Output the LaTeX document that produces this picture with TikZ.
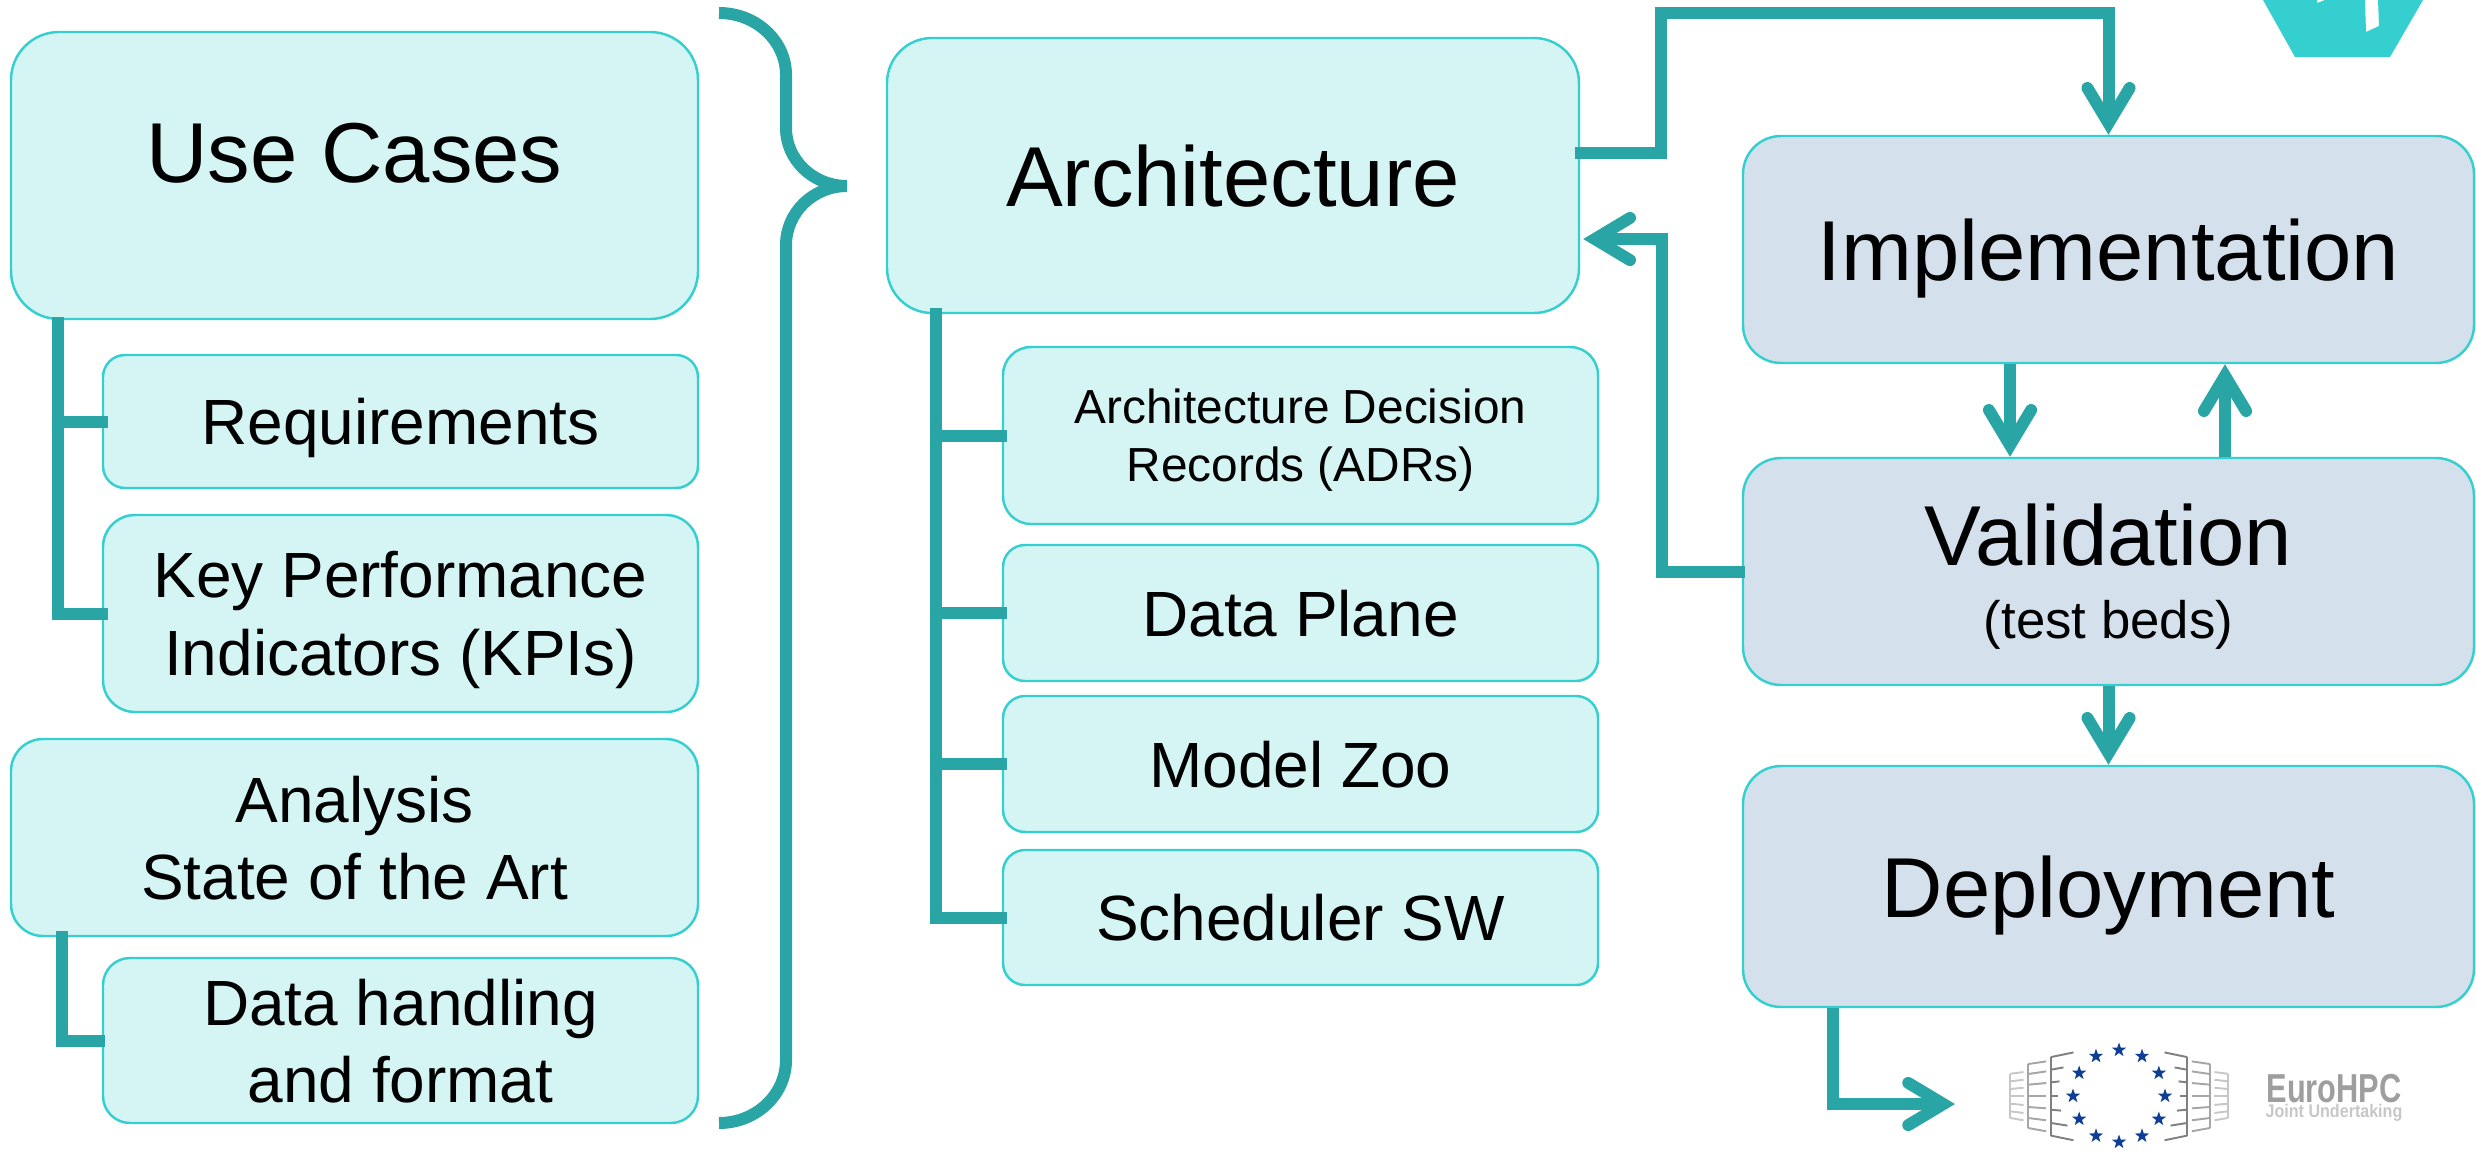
\documentclass[tikz,border=0pt]{standalone}
\usepackage{fontspec}
\setmainfont{Liberation Sans}
\usepackage{xcolor}
\definecolor{flowTeal}{HTML}{29A5A5}
\definecolor{boxEdge}{HTML}{36CFCF}
\definecolor{boxLight}{HTML}{D5F5F5}
\definecolor{boxSteel}{HTML}{D4E1EC}
\definecolor{euStar}{HTML}{0F3E96}
\usetikzlibrary{arrows.meta,shapes.geometric}
\tikzset{plan box/.style={rectangle, rounded corners=.22cm, draw=boxEdge, fill=boxLight, line width=.7pt, align=center, inner sep=0pt, text depth=0pt, font=\fontsize{18.2}{22}\selectfont}}
\tikzset{main box/.style={plan box, rounded corners=.45cm, font=\fontsize{24.2}{29}\selectfont}}
\tikzset{run box/.style={main box, fill=boxSteel, rounded corners=.38cm}}
\tikzset{box size/.style 2 args={minimum width=#1cm, minimum height=#2cm}}
\tikzset{link/.style={draw=flowTeal, line width=.12cm}}
\tikzset{flow/.style={link, -{Straight Barb[length=10pt,width=12pt,line width=3.4pt,line cap=round]}}}
\tikzset{rack/.style={line width=.55pt}}

\begin{document}
\begin{tikzpicture}
\useasboundingbox (0,0) rectangle (24.76,-11.57);
%--------------------
% the use cases
%--------------------
\node[main box, rounded corners=.48cm, box size={6.87}{2.87}](usecases) at (3.545,-1.755){\raisebox{.45cm}{Use Cases}};
\node[plan box, box size={5.95}{1.33}](requirements)[below of=usecases, node distance=2.46cm, xshift=.46cm]{Requirements};
\node[plan box, rounded corners=.32cm, box size={5.95}{1.97}](kpi)[below of=requirements, node distance=1.92cm]{Key Performance\\Indicators (KPIs)};
\node[plan box, rounded corners=.32cm, box size={6.87}{1.97}](analysis)[below of=kpi, node distance=2.24cm, xshift=-.46cm]{Analysis\\State of the Art};
\node[plan box, rounded corners=.27cm, box size={5.95}{1.65}](datahandling)[below of=analysis, node distance=2.03cm, xshift=.46cm]{Data handling\\and format};

%--------------------
% the architecture
%--------------------
\node[main box, box size={6.92}{2.75}](architecture)[right of=usecases, node distance=8.785cm]{Architecture};
\node[plan box, rounded corners=.28cm, box size={5.95}{1.77}, font=\fontsize{13.6}{16.5}\selectfont](adr)[below of=architecture, node distance=2.60cm, xshift=.675cm]{Architecture Decision\\Records (ADRs)};
\node[plan box, box size={5.95}{1.36}](dataplane)[below of=adr, node distance=1.775cm]{Data Plane};
\node[plan box, box size={5.95}{1.36}](modelzoo)[below of=dataplane, node distance=1.51cm]{Model Zoo};
\node[plan box, box size={5.95}{1.35}](scheduler)[below of=modelzoo, node distance=1.535cm]{Scheduler SW};

%--------------------
% implementation to deployment
%--------------------
\node[run box, box size={7.31}{2.27}](implementation)[right of=architecture, node distance=8.755cm, yshift=-.74cm]{Implementation};
\node[run box, box size={7.31}{2.27}, text depth=-.12cm](validation)[below of=implementation, node distance=3.22cm]{Validation\\[-.29cm]{\fontsize{15}{18}\selectfont (test beds)}};
\node[run box, box size={7.31}{2.41}](deployment)[below of=validation, node distance=3.15cm]{Deployment};

%--------------------
% the connectors
%--------------------
\coordinate (usebus) at (.575,-3.17);
\draw[link] (usebus) |- ([xshift=.06cm]requirements.west);
\draw[link] (usebus) |- ([xshift=.06cm]kpi.west);
\coordinate (analysisbus) at (.62,-9.31);
\draw[link] (analysisbus) |- ([xshift=.03cm]datahandling.west);
\coordinate (archbus) at (9.36,-3.08);
\draw[link] (archbus) |- ([xshift=.05cm]adr.west);
\draw[link] (archbus) |- ([xshift=.05cm]dataplane.west);
\draw[link] (archbus) |- ([xshift=.05cm]modelzoo.west);
\draw[link] (archbus) |- ([xshift=.05cm]scheduler.west);

\coordinate (bracetop) at (7.19,-.13);
\coordinate (bracetip) at (8.47,-1.86);
\draw[link] (bracetop) arc[start angle=90, end angle=0, x radius=.67, y radius=.62] -- ++(0,-.53) arc[start angle=180, end angle=270, x radius=.61, y radius=.58];
\draw[link] (bracetip) arc[start angle=90, end angle=180, x radius=.61, y radius=.59] -- ++(0,-8.15) arc[start angle=0, end angle=-90, x radius=.67, y radius=.63];

\coordinate (archup) at (16.61,-.13);
\draw[flow] ([xshift=-.05cm,yshift=.225cm]architecture.east) -| (archup) -| (implementation.north);
\draw[flow] ([xshift=.03cm]validation.west) -| ([xshift=.82cm,yshift=-.635cm]architecture.east) -- ([xshift=.03cm,yshift=-.635cm]architecture.east);
\draw[flow] ([xshift=-.985cm]implementation.south) -- ([xshift=-.985cm]validation.north);
\draw[flow] ([xshift=1.165cm]validation.north) -- ([xshift=1.165cm]implementation.south);
\draw[flow] (validation.south) -- (deployment.north);
\coordinate (logotip) at (19.55,-11.04);
\draw[flow] ([xshift=-2.76cm]deployment.south) |- (logotip);

%--------------------
% the logos
%--------------------
\fill[boxEdge] (22.63,0) -- (22.95,-.57) -- (23.90,-.57) -- (24.23,0) -- (23.78,0) -- (23.79,-.26) -- (23.66,-.32) -- (23.65,0) -- (23.25,0) -- (23.17,-.03) -- (23.17,0) -- cycle;
\coordinate (eurocore) at (21.19,-10.96);
\foreach \i in {1,...,12}
  \node[star, star point ratio=2.5, fill=euStar, inner sep=0pt, minimum size=.15cm](eustar\i) at ([shift={({90-30*\i}:.46)}]eurocore){};
\begin{scope}[shift={(eurocore)}, x=.00333cm, y=.00333cm]
\foreach \flip in {1,-1}{
  \begin{scope}[xscale=\flip]
  \draw[rack, black!50] (-205,117) -- (-205,-119);
  \foreach \a/\b/\c in {117/-137/131, 79/-167/86, 41/-179/44, 0/-182/0, -41/-174/-44, -81/-155/-89, -119/-137/-133}
    \draw[rack, black!50] (-205,\a) -- (\b,\c);
  \draw[rack, black!35] (-274,96) -- (-274,-96);
  \foreach \a/\c in {96/104, 66/74, 34/39, 0/0, -33/-37, -66/-73, -96/-106}
    \draw[rack, black!35] (-274,\a) -- (-219,\c);
  \draw[rack, black!22] (-327,67) -- (-327,-66);
  \foreach \a/\c in {67/72, 44/49, 21/25, 0/0, -23/-27, -46/-51, -66/-73}
    \draw[rack, black!22] (-327,\a) -- (-287,\c);
  \end{scope}
}
\end{scope}
\node[text=black!38, font=\bfseries\fontsize{11.5}{13}\selectfont, xscale=.76, inner sep=0pt](eurohpc) at (23.34,-10.89){EuroHPC};
\node[text=black!22, font=\bfseries\fontsize{5.2}{6}\selectfont, xscale=.88, inner sep=0pt](jointunder) at (23.34,-11.13){Joint Undertaking};
\end{tikzpicture}
\end{document}
